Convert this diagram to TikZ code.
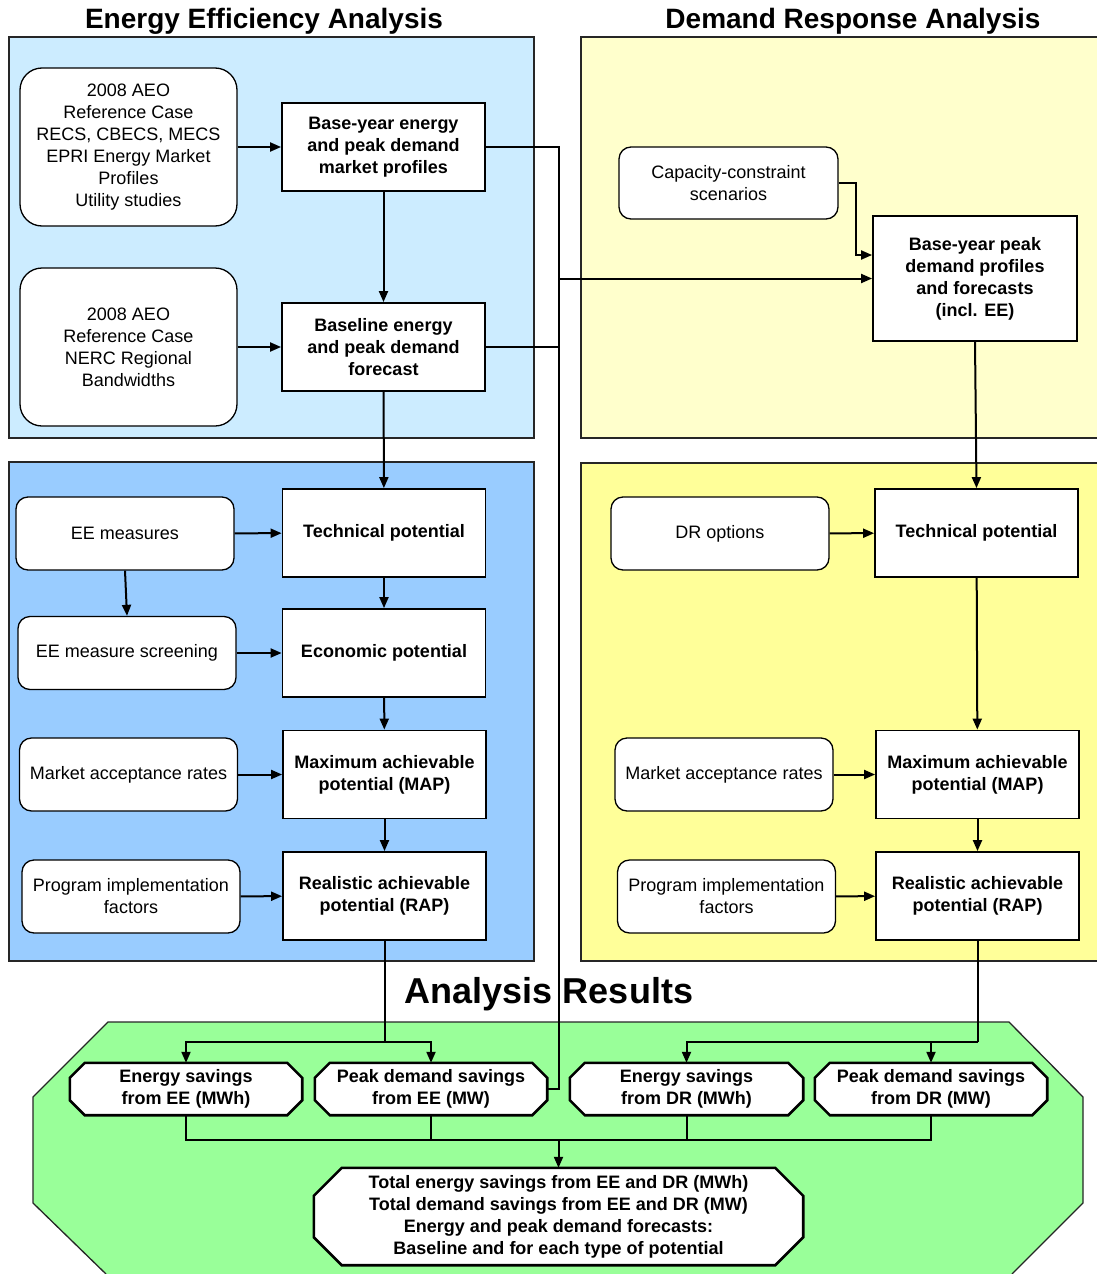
\documentclass[tikz,border=0pt]{standalone}
\usepackage{fontspec}
\setmainfont{Liberation Sans}
\usetikzlibrary{arrows.meta,backgrounds}

\definecolor{eeback}{HTML}{CCECFF}
\definecolor{eepot}{HTML}{99CCFF}
\definecolor{drback}{HTML}{FFFFCC}
\definecolor{drpot}{HTML}{FFFF99}
\definecolor{resgreen}{HTML}{99FF99}

\newcommand\boxfont{\fontsize{18}{22}\selectfont}
% chamfered outline round a named node
\newcommand\cutframe[2]{%
  \draw[hexline] ([xshift=#2]#1.north west) -- ([xshift=-#2]#1.north east)
    -- ([yshift=-#2]#1.north east) -- ([yshift=#2]#1.south east)
    -- ([xshift=-#2]#1.south east) -- ([xshift=#2]#1.south west)
    -- ([yshift=#2]#1.south west) -- ([yshift=-#2]#1.north west) -- cycle;}

\begin{document}
\begin{tikzpicture}[x=1pt,y=-1pt,
    panel/.style={draw=black!85,line width=1.3pt},
    title/.style={font=\bfseries\fontsize{28}{32}\selectfont},
    src/.style={draw,fill=white,line width=1.3pt,rounded corners=12pt,align=center,
      font=\boxfont,inner sep=2pt,minimum width=218pt,minimum height=73pt},
    stage/.style={draw,fill=white,line width=1.8pt,align=center,
      font=\bfseries\boxfont,minimum width=203pt,minimum height=88pt},
    restext/.style={align=center,font=\bfseries\boxfont,inner sep=0pt},
    hexline/.style={draw,fill=white,line width=2.6pt},
    line/.style={draw,line width=2pt},
    arr/.style={line,-{Triangle[length=11pt,width=9pt]}}]
  \useasboundingbox (0,0) rectangle (1097,1274);

  % backgrounds
  \begin{scope}[on background layer]
    \filldraw[panel,fill=eeback] (9,37) rectangle (534,438);
    \filldraw[panel,fill=eepot] (9,462) rectangle (534,961);
    \fill[drback] (581,37) rectangle (1097,438);
    \draw[panel] (1097,37) -- (581,37) -- (581,438) -- (1097,438);
    \fill[drpot] (581,463) rectangle (1097,961);
    \draw[panel] (1097,463) -- (581,463) -- (581,961) -- (1097,961);
    \fill[resgreen] (106,1274) -- (33,1203) -- (33,1097) -- (108,1022) -- (1009,1022)
      -- (1083,1097) -- (1083,1203) -- (1012,1274) -- cycle;
    \draw[panel] (106,1274) -- (33,1203) -- (33,1097) -- (108,1022) -- (1009,1022)
      -- (1083,1097) -- (1083,1203) -- (1012,1274);
  \end{scope}

  \node[title] (eetitle) at (264,21) {Energy Efficiency Analysis};
  \node[title] (drtitle) at (853,21) {Demand Response Analysis};
  \node[font=\bfseries\fontsize{36}{40}\selectfont] (restitle) at (549,994) {Analysis Results};

  % EE baseline
  \node[src,rounded corners=22pt,minimum width=217pt,minimum height=158pt] (ref1) at (128.5,147)
    {2008 AEO\\Reference Case\\RECS, CBECS, MECS\\EPRI Energy Market\\Profiles\\Utility studies};
  \node[src,rounded corners=22pt,minimum width=217pt,minimum height=158pt] (ref2) at (128.5,347)
    {2008 AEO\\Reference Case\\NERC Regional\\Bandwidths};
  \node[stage] (basey) at (383.5,147) {Base-year energy\\and peak demand\\market profiles};
  \node[stage] (basel) at (383.5,347) {Baseline energy\\and peak demand\\forecast};

  % EE potentials
  \node[src] (eem) at (125,533.5) {EE measures};
  \node[src] (eescr) at (127,653) {EE measure screening};
  \node[src] (eemkt) at (128.5,774.5) {Market acceptance rates};
  \node[src] (eeprog) at (131,896.5) {Program implementation\\factors};
  \node[stage] (eetech) at (384,533) {Technical potential};
  \node[stage] (eeecon) at (384,653) {Economic potential};
  \node[stage] (eemap) at (384.5,774.5) {Maximum achievable\\potential (MAP)};
  \node[stage] (eerap) at (384.5,896) {Realistic achievable\\potential (RAP)};

  % DR side
  \node[src,minimum width=219pt,minimum height=72pt] (cap) at (728.5,183) {Capacity-constraint\\scenarios};
  \node[stage,minimum width=204pt,minimum height=125pt] (drbase) at (975,278.5)
    {Base-year peak\\demand profiles\\and forecasts\\(incl. EE)};
  \node[src] (dropt) at (720,533.5) {DR options};
  \node[src] (drmkt) at (724,774.5) {Market acceptance rates};
  \node[src] (drprog) at (726.5,896.5) {Program implementation\\factors};
  \node[stage] (drtech) at (976.5,533) {Technical potential};
  \node[stage] (drmap) at (977.5,774.5) {Maximum achievable\\potential (MAP)};
  \node[stage] (drrap) at (977.5,896) {Realistic achievable\\potential (RAP)};

  % results
  \node[restext,minimum width=232pt,minimum height=52pt] (h1) at (186,1089) {Energy savings\\from EE (MWh)};
  \node[restext,minimum width=232pt,minimum height=52pt] (h2) at (431,1089) {Peak demand savings\\from EE (MW)};
  \node[restext,minimum width=233pt,minimum height=52pt] (h3) at (686.5,1089) {Energy savings\\from DR (MWh)};
  \node[restext,minimum width=232pt,minimum height=52pt] (h4) at (931,1089) {Peak demand savings\\from DR (MW)};
  \node[restext,minimum width=489pt,minimum height=97pt] (tot) at (558.5,1216.5)
    {Total energy savings from EE and DR (MWh)\\Total demand savings from EE and DR (MW)\\
     Energy and peak demand forecasts:\\Baseline and for each type of potential};
  \begin{scope}[on background layer]
    \cutframe{h1}{15pt}
    \cutframe{h2}{15pt}
    \cutframe{h3}{15pt}
    \cutframe{h4}{15pt}
    \cutframe{tot}{28pt}
  \end{scope}

  \coordinate (jtop) at (559,278.5);
  \coordinate (eesplit) at (eerap.south |- 0,1042);
  \coordinate (drsplit) at (drrap.south |- 0,1042);
  \coordinate (merge) at (tot.north |- 0,1140);

  % connectors
  \draw[arr] (ref1) -- (basey);
  \draw[arr] (ref2) -- (basel);
  \draw[arr] (basey) -- (basel);
  \draw[line] (basey.east) -| (jtop) |- (basel.east);
  \draw[arr] (jtop) -- (jtop -| drbase.west);
  \draw[line] (jtop) |- (h2.east);
  \draw[arr] (cap.east) -- ++(17,0) |- ([yshift=23.5pt]drbase.west);
  \draw[arr] (drbase.south) -- (drtech.north);

  \draw[arr] (basel) -- (eetech);
  \draw[arr] (eem) -- (eetech);
  \draw[arr] (eem.south) -- (eescr.north);
  \draw[arr] (eescr) -- (eeecon);
  \draw[arr] (eemkt) -- (eemap);
  \draw[arr] (eeprog) -- (eerap);
  \draw[arr] (eetech) -- (eeecon);
  \draw[arr] (eeecon) -- (eemap);
  \draw[arr] (eemap) -- (eerap);

  \draw[arr] (dropt) -- (drtech);
  \draw[arr] (drmkt) -- (drmap);
  \draw[arr] (drprog) -- (drrap);
  \draw[arr] (drtech) -- (drmap);
  \draw[arr] (drmap) -- (drrap);

  \draw[line] (eerap.south) -- (eesplit);
  \draw[arr] (eesplit) -| (h1.north);
  \draw[arr] (eesplit) -| (h2.north);
  \draw[line] (drrap.south) -- (drsplit);
  \draw[arr] (drsplit) -| (h3.north);
  \draw[arr] (drsplit) -| (h4.north);

  \draw[line] (h1.south) |- (merge) -| (h4.south);
  \draw[line] (h2.south) -- (h2.south |- merge);
  \draw[line] (h3.south) -- (h3.south |- merge);
  \draw[arr] (merge) -- (tot);
\end{tikzpicture}
\end{document}
